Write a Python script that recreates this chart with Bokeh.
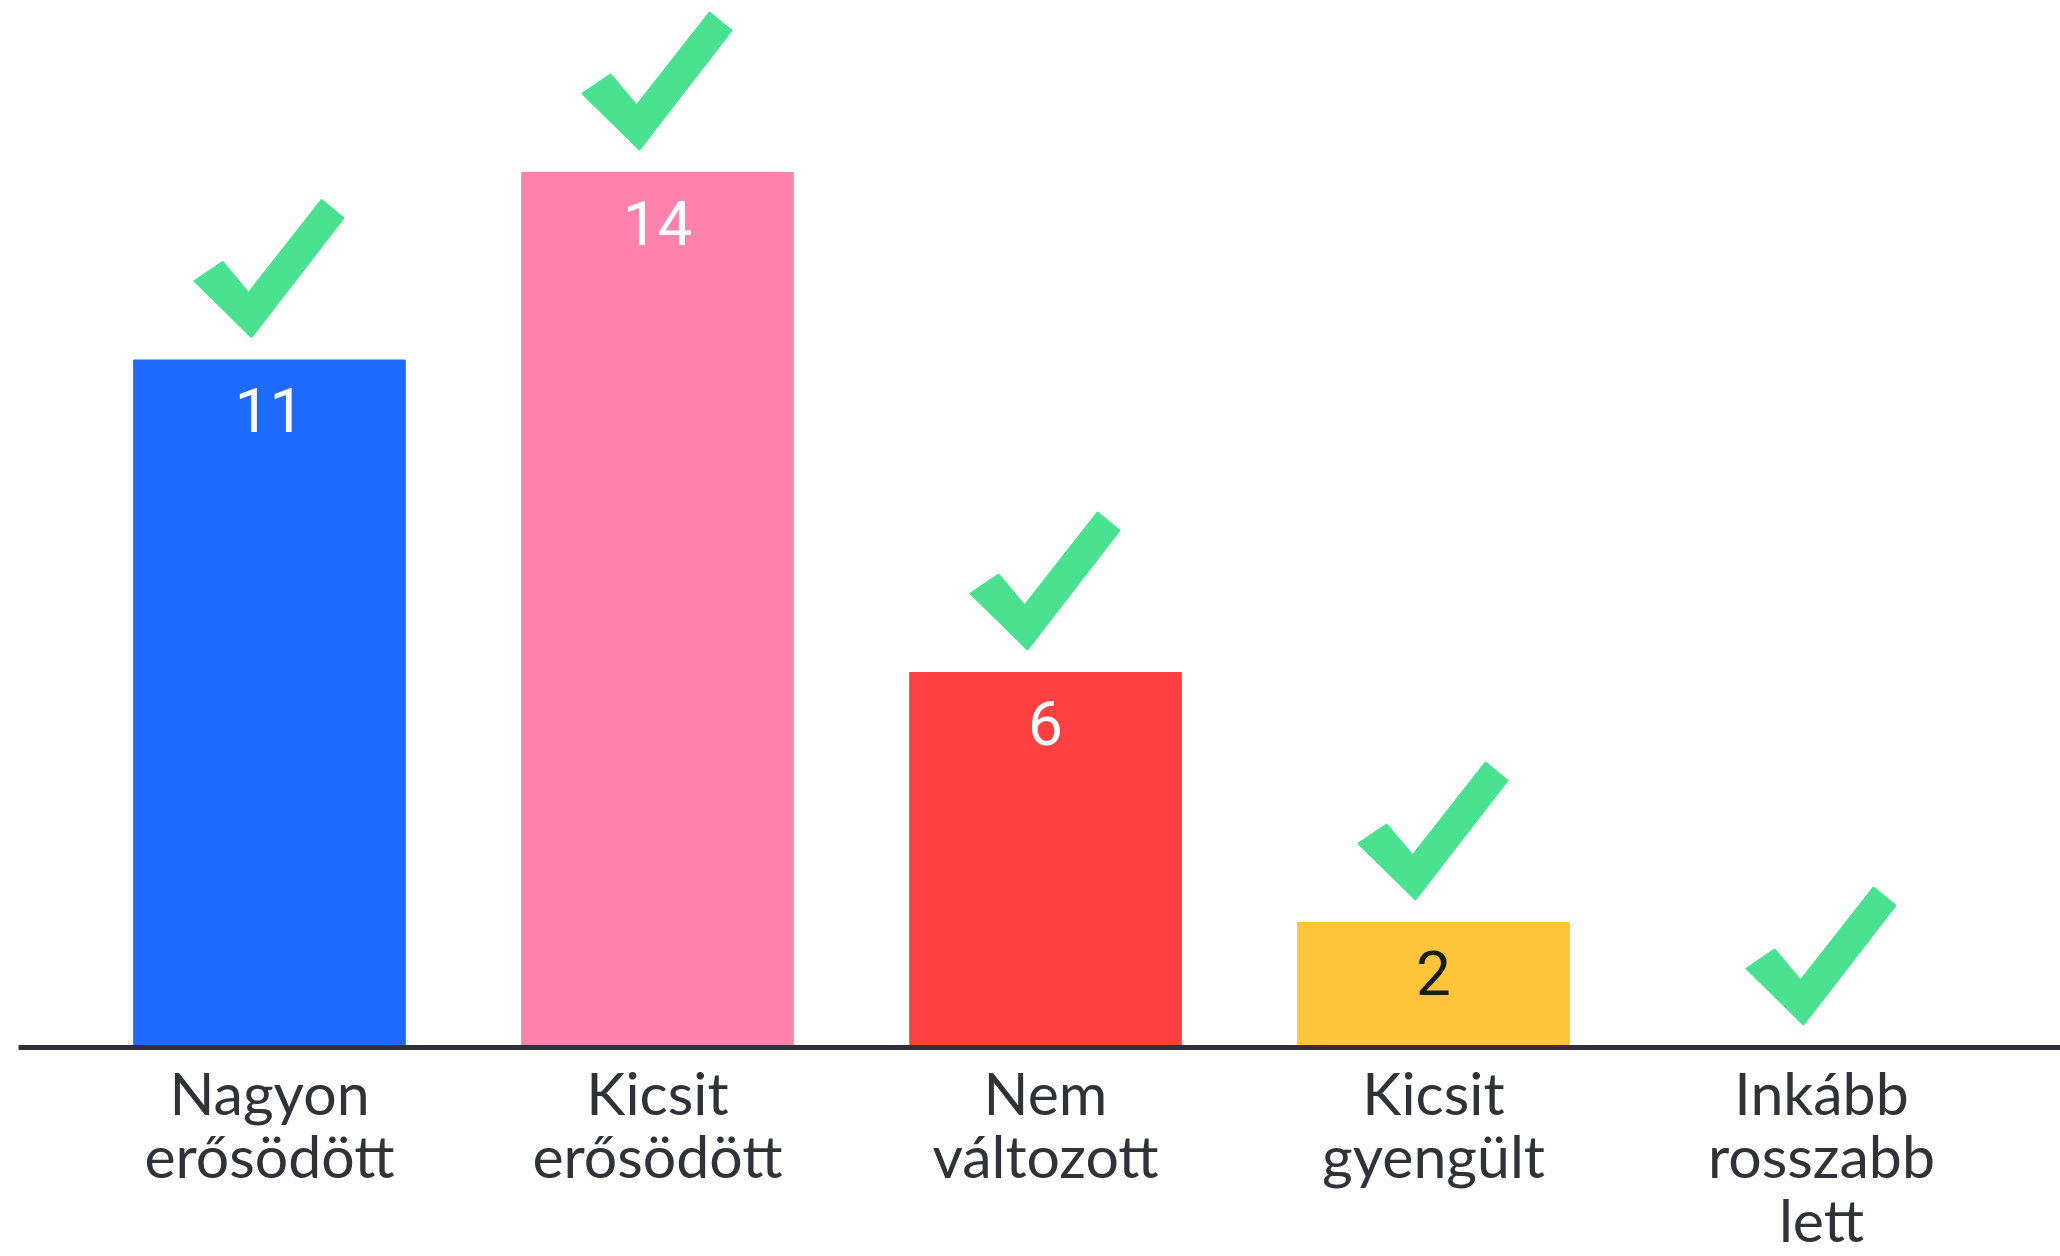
from bokeh.plotting import figure
from bokeh.models import Range1d, ColumnDataSource
from bokeh.core.properties import value
from bokeh.embed import file_html
from bokeh.resources import INLINE

# ---- data ----
categories = ["Nagyon\nerősödött", "Kicsit\nerősödött", "Nem\nváltozott",
              "Kicsit\ngyengült", "Inkább\nrosszabb\nlett"]
counts = [11, 14, 6, 2, 0]

# ---- styles ----
bar_colors = ["#1f6bff", "#ff82ac", "#ff4040", "#ffc53a", "#ffc53a"]
num_colors = ["#ffffff", "#ffffff", "#ffffff", "#1a1a1a", "#1a1a1a"]
check_color = "#4ae290"
text_color = "#303238"

W, H = 2060, 1256
PX_X = 388.0     # pixels per category
PX_Y = 62.5      # pixels per count unit
X0 = 269.0       # pixel position of first category centre
Y0 = 1047.0      # pixel position of baseline (from top)

x_range = Range1d(-X0 / PX_X, (W - X0) / PX_X)
y_range = Range1d(-(H - Y0) / PX_Y, Y0 / PX_Y)

p = figure(width=W, height=H, x_range=x_range, y_range=y_range,
           output_backend="svg", toolbar_location=None,
           x_axis_type=None, y_axis_type=None, min_border=0)
p.grid.visible = False
p.outline_line_color = None
p.background_fill_color = "white"
p.border_fill_color = "white"

xs = list(range(len(categories)))

src = ColumnDataSource(dict(
    x=xs, top=counts, color=bar_colors,
    num=[str(c) if c > 0 else "" for c in counts],
    numcolor=num_colors, cat=categories,
))

p.vbar(x="x", top="top", bottom=0, width=0.7, color="color", source=src)

# check mark shape in pixel offsets (relative to bar centre / bar top, y up)
shape = [(-18, 23), (-75, 79), (-47, 98), (-21, 67), (52, 160), (74, 142)]
cxs, cys = [], []
for i, c in zip(xs, counts):
    cxs.append([i + dx / PX_X for dx, dy in shape])
    cys.append([c + dy / PX_Y for dx, dy in shape])
p.patches(xs=cxs, ys=cys, fill_color=check_color, line_color=check_color,
          line_width=2, line_join="round")

# value labels inside bars
p.text(x="x", y="top", text="num", source=src, text_color="numcolor",
       text_align="center", text_baseline="middle", y_offset=50,
       text_font=value("Roboto"), text_font_size="62px")

# baseline
p.segment(x0=x_range.start + 18 / PX_X, y0=0, x1=x_range.end, y1=0,
          line_width=5, line_color="#2f3136")

# category labels
p.text(x="x", y=0, text="cat", source=src, text_color=text_color,
       text_align="center", text_baseline="top", y_offset=9,
       text_font=value("Lato"), text_font_size="59px", text_line_height=0.9)

open("out.html", "w").write(file_html(p, INLINE))
